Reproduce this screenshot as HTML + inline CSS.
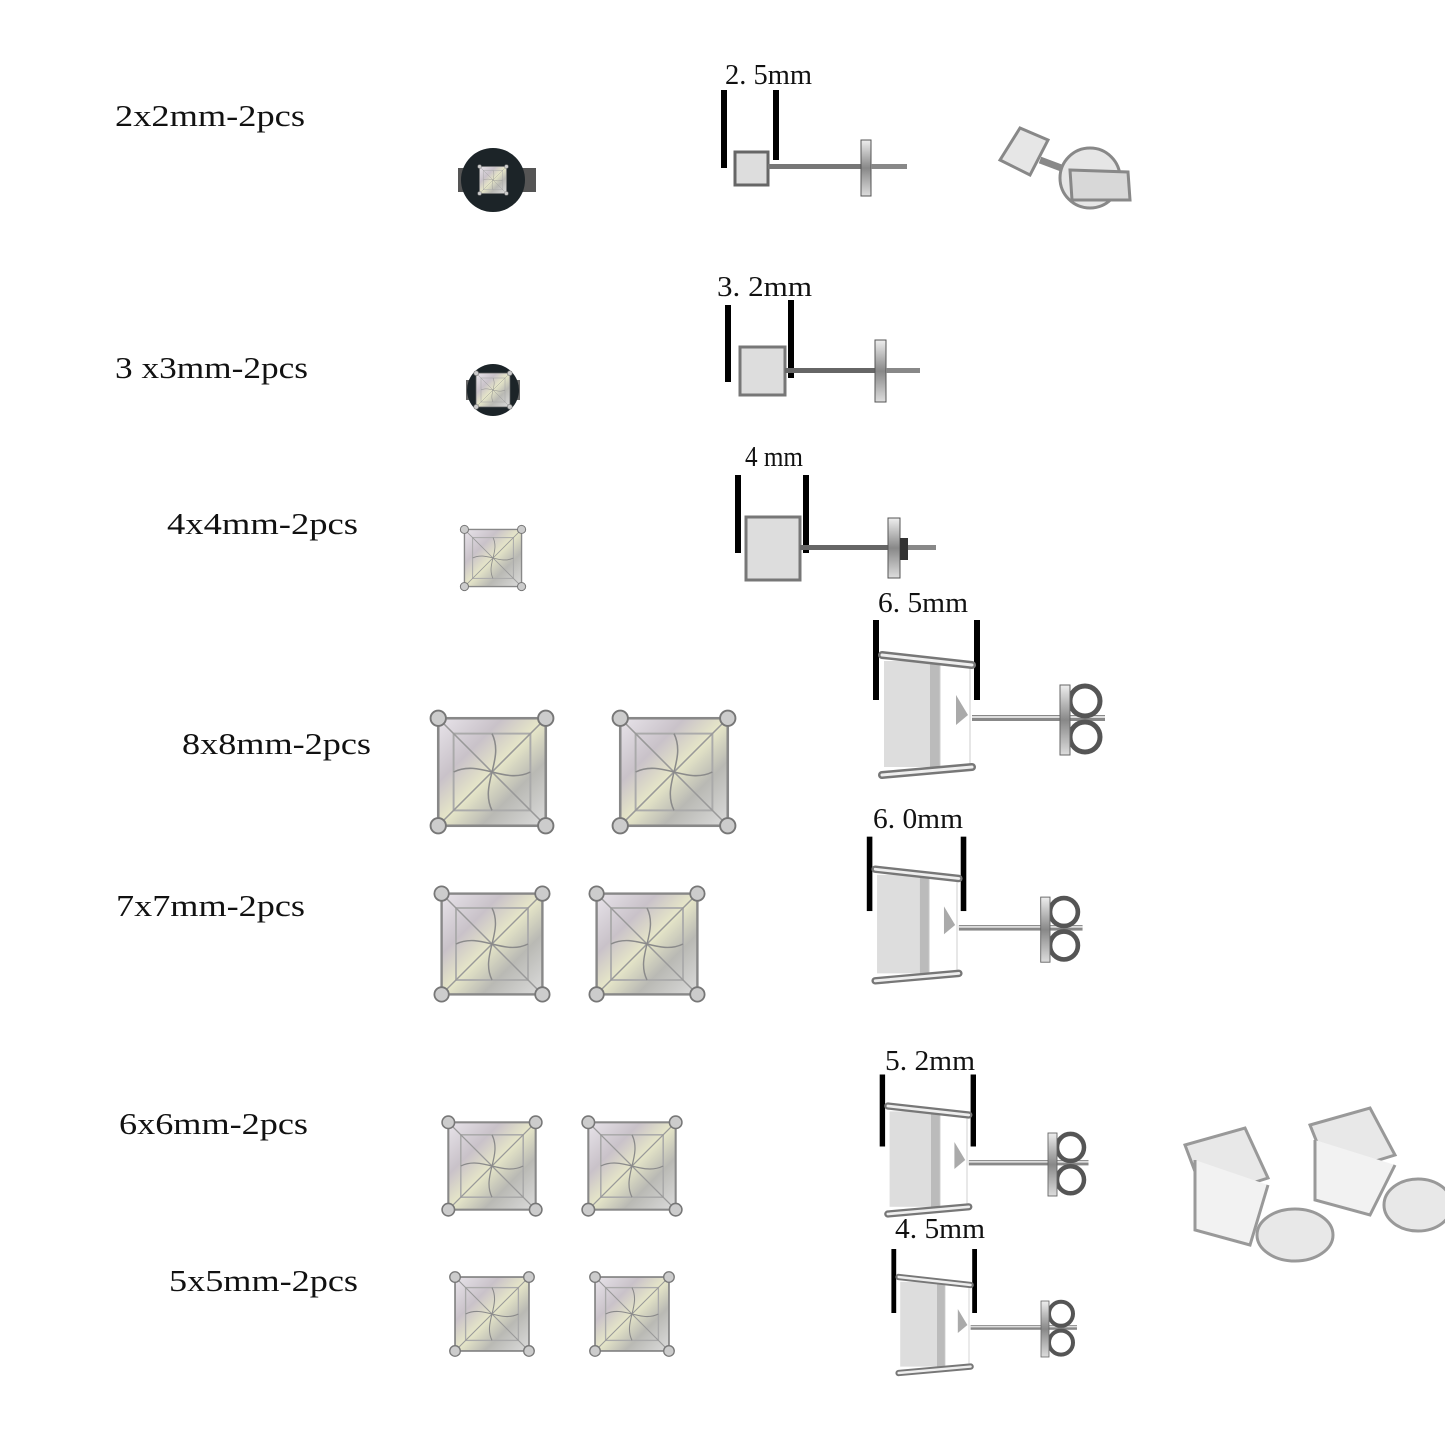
<!DOCTYPE html>
<html><head><meta charset="utf-8"><style>
html,body{margin:0;padding:0;background:#fff}
svg{display:block}
text{font-family:"Liberation Serif",serif;fill:#111}
</style></head><body>
<svg width="1445" height="1445" viewBox="0 0 1445 1445" xmlns="http://www.w3.org/2000/svg">
<defs>
<linearGradient id="st" x1="0" y1="0" x2="1" y2="1">
<stop offset="0" stop-color="#e8e4ea"/><stop offset="0.3" stop-color="#c9c2c9"/><stop offset="0.5" stop-color="#e6e6c8"/><stop offset="0.7" stop-color="#b9b9b4"/><stop offset="1" stop-color="#dcdcdc"/>
</linearGradient>
<linearGradient id="metal" x1="0" y1="0" x2="0" y2="1">
<stop offset="0" stop-color="#eee"/><stop offset="0.5" stop-color="#888"/><stop offset="1" stop-color="#ddd"/>
</linearGradient>
<symbol id="stone" viewBox="0 0 100 100">
<rect x="8" y="8" width="84" height="84" fill="url(#st)" stroke="#888" stroke-width="2"/>
<rect x="20" y="20" width="60" height="60" fill="none" stroke="#aaa" stroke-width="1.5"/>
<path d="M8 8L50 50L92 8M8 92L50 50L92 92" stroke="#999" stroke-width="1.2" fill="none"/>
<path d="M50 20 C60 40 40 60 50 80 M20 50 C40 40 60 60 80 50" stroke="#8a8a8a" stroke-width="1.2" fill="none"/>
<g fill="#ccc" stroke="#777" stroke-width="1.5">
<circle cx="8" cy="8" r="6"/><circle cx="92" cy="8" r="6"/><circle cx="8" cy="92" r="6"/><circle cx="92" cy="92" r="6"/></g>
</symbol>
<symbol id="side" viewBox="0 0 235 170" overflow="visible">
<rect x="3" y="5" width="6" height="80" fill="#000"/>
<rect x="104" y="5" width="6" height="80" fill="#000"/>
<rect x="14" y="46" width="46" height="106" fill="#ddd"/>
<rect x="60" y="48" width="10" height="104" fill="#bbb"/>
<rect x="70" y="48" width="30" height="104" fill="#fff" stroke="#ccc"/>
<path d="M86 80 L98 100 L86 110Z" fill="#aaa"/>
<path d="M12 40 L102 50" stroke="#777" stroke-width="8" stroke-linecap="round"/>
<path d="M12 40 L102 50" stroke="#eee" stroke-width="3" stroke-linecap="round"/>
<path d="M12 160 L102 152" stroke="#777" stroke-width="8" stroke-linecap="round"/>
<path d="M12 160 L102 152" stroke="#eee" stroke-width="3" stroke-linecap="round"/>
<rect x="102" y="100" width="133" height="6" fill="#888"/>
<rect x="102" y="101" width="133" height="2" fill="#ddd"/>
<circle cx="215" cy="86" r="15" fill="none" stroke="#555" stroke-width="5"/>
<circle cx="215" cy="122" r="15" fill="none" stroke="#555" stroke-width="5"/>
<rect x="190" y="70" width="10" height="70" fill="url(#metal)" stroke="#666"/>
</symbol>
</defs>

<!-- labels -->
<g font-size="31">
<text x="115" y="126" textLength="190" lengthAdjust="spacingAndGlyphs">2x2mm-2pcs</text>
<text x="115" y="378" textLength="193" lengthAdjust="spacingAndGlyphs">3 x3mm-2pcs</text>
<text x="167" y="534" textLength="191" lengthAdjust="spacingAndGlyphs">4x4mm-2pcs</text>
<text x="182" y="754" textLength="189" lengthAdjust="spacingAndGlyphs">8x8mm-2pcs</text>
<text x="116" y="916" textLength="189" lengthAdjust="spacingAndGlyphs">7x7mm-2pcs</text>
<text x="119" y="1134" textLength="189" lengthAdjust="spacingAndGlyphs">6x6mm-2pcs</text>
<text x="169" y="1291" textLength="189" lengthAdjust="spacingAndGlyphs">5x5mm-2pcs</text>
</g>
<g font-size="28">
<text x="725" y="84" textLength="87" lengthAdjust="spacingAndGlyphs">2. 5mm</text>
<text x="717" y="296" textLength="95" lengthAdjust="spacingAndGlyphs">3. 2mm</text>
<text x="745" y="466" textLength="58" lengthAdjust="spacingAndGlyphs">4 mm</text>
<text x="878" y="612" textLength="90" lengthAdjust="spacingAndGlyphs">6. 5mm</text>
<text x="873" y="828" textLength="90" lengthAdjust="spacingAndGlyphs">6. 0mm</text>
<text x="885" y="1070" textLength="90" lengthAdjust="spacingAndGlyphs">5. 2mm</text>
<text x="895" y="1238" textLength="90" lengthAdjust="spacingAndGlyphs">4. 5mm</text>
</g>

<!-- small front stones -->
<rect x="458" y="168" width="78" height="24" fill="#555"/>
<circle cx="493" cy="180" r="32" fill="#1c2428"/>
<use href="#stone" x="477" y="164" width="32" height="32"/>
<rect x="466" y="380" width="54" height="20" fill="#666"/>
<circle cx="493" cy="390" r="26" fill="#1c2428"/>
<use href="#stone" x="473" y="370" width="40" height="40"/>
<circle cx="493" cy="557" r="26" fill="#222"/>
<use href="#stone" x="459" y="524" width="68" height="68"/>

<!-- big stones -->
<use href="#stone" x="428" y="708" width="128" height="128"/>
<use href="#stone" x="610" y="708" width="128" height="128"/>
<use href="#stone" x="432" y="884" width="120" height="120"/>
<use href="#stone" x="587" y="884" width="120" height="120"/>
<use href="#stone" x="440" y="1114" width="104" height="104"/>
<use href="#stone" x="580" y="1114" width="104" height="104"/>
<use href="#stone" x="448" y="1270" width="88" height="88"/>
<use href="#stone" x="588" y="1270" width="88" height="88"/>

<!-- big side views -->
<use href="#side" x="870" y="615" width="235" height="170"/>
<use href="#side" transform="translate(864,832) scale(0.93)" width="235" height="170"/>
<use href="#side" transform="translate(877,1070) scale(0.9)" width="235" height="170"/>
<use href="#side" transform="translate(889,1245) scale(0.8)" width="235" height="170"/>

<!-- small side views -->
<g>
<rect x="721" y="90" width="6" height="78" fill="#000"/><rect x="773" y="90" width="6" height="70" fill="#000"/>
<rect x="735" y="152" width="33" height="33" fill="#ddd" stroke="#666" stroke-width="3"/>
<rect x="768" y="164" width="95" height="5" fill="#777"/>
<rect x="861" y="140" width="10" height="56" fill="url(#metal)" stroke="#555"/>
<rect x="871" y="164" width="36" height="5" fill="#888"/>
</g>
<g>
<rect x="725" y="305" width="6" height="77" fill="#000"/><rect x="788" y="300" width="6" height="78" fill="#000"/>
<rect x="740" y="347" width="45" height="48" fill="#ddd" stroke="#777" stroke-width="3"/>
<rect x="785" y="368" width="92" height="5" fill="#666"/>
<rect x="875" y="340" width="11" height="62" fill="url(#metal)" stroke="#555"/>
<rect x="886" y="368" width="34" height="5" fill="#888"/>
</g>
<g>
<rect x="735" y="475" width="6" height="78" fill="#000"/><rect x="803" y="475" width="6" height="78" fill="#000"/>
<rect x="746" y="517" width="54" height="63" fill="#ddd" stroke="#777" stroke-width="3"/>
<rect x="800" y="545" width="88" height="5" fill="#666"/>
<rect x="888" y="518" width="12" height="60" fill="url(#metal)" stroke="#555"/>
<rect x="900" y="538" width="8" height="22" fill="#333"/>
<rect x="908" y="545" width="28" height="5" fill="#888"/>
</g>

<!-- 3D renders -->
<g fill="#e6e6e6" stroke="#888" stroke-width="3">
<path d="M1000 160 L1020 128 L1048 140 L1030 175Z"/>
<path d="M1040 160 L1080 175" stroke-width="7"/>
<circle cx="1090" cy="178" r="30"/>
<path d="M1070 170 L1128 172 L1130 200 L1072 200Z" fill="#d8d8d8"/>
</g>
<g fill="#e8e8e8" stroke="#999" stroke-width="3">
<path d="M1185 1145 L1245 1128 L1268 1178 L1205 1198Z"/>
<path d="M1195 1160 L1195 1230 L1250 1245 L1268 1185" fill="#f2f2f2"/>
<ellipse cx="1295" cy="1235" rx="38" ry="26"/>
<path d="M1310 1125 L1370 1108 L1395 1155 L1330 1175Z"/>
<path d="M1315 1140 L1315 1200 L1370 1215 L1395 1165" fill="#f2f2f2"/>
<ellipse cx="1418" cy="1205" rx="34" ry="26"/>
</g>
</svg>
</body></html>
